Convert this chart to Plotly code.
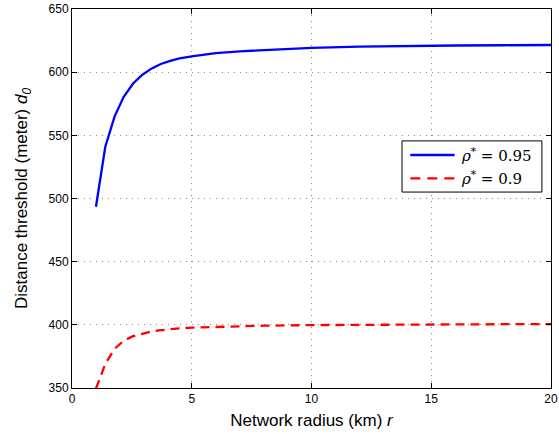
import plotly.graph_objects as go

# Network radius r (km) and distance threshold d0 (m) for each target rho*
r_blue = [1.0, 1.39, 1.78, 2.16, 2.55, 2.94, 3.33, 3.71, 4.1, 4.49, 5, 6, 7, 8, 9, 10, 12, 14, 16, 18, 20]
d0_rho095 = [493.5, 541, 565, 580.5, 591, 598, 603, 606.5, 609, 611, 612.5, 615, 616.5, 617.5, 618.5,
             619.3, 620.2, 620.8, 621.1, 621.3, 621.5]

r_red = [1.0, 1.39, 1.78, 2.16, 2.55, 2.94, 3.33, 3.71, 4.1, 4.49, 5, 6, 7, 8, 10, 12, 14, 16, 18, 20]
d0_rho090 = [349.5, 369, 381, 387.5, 391, 393.2, 394.8, 395.8, 396.6, 397.2, 397.8, 398.5, 399, 399.3,
             399.8, 400.1, 400.3, 400.4, 400.5, 400.6]

x_ticks = [0, 5, 10, 15, 20]
y_ticks = [350, 400, 450, 500, 550, 600, 650]

series_names = ["<i>ρ</i><sup>*</sup> = 0.95", "<i>ρ</i><sup>*</sup> = 0.9"]
series_colors = ["#0000ff", "#ff0000"]
series_dash = ["solid", "10px,7px"]

fig = go.Figure()
fig.add_trace(go.Scatter(
    x=r_blue, y=d0_rho095, mode="lines",
    line=dict(color=series_colors[0], width=2.3, dash=series_dash[0]),
    name=series_names[0], showlegend=False,
))
fig.add_trace(go.Scatter(
    x=r_red, y=d0_rho090, mode="lines",
    line=dict(color=series_colors[1], width=2.3, dash="9px,6px"),
    name=series_names[1], showlegend=False,
))

axis_common = dict(
    showline=True, linecolor="black", linewidth=1, mirror="ticks",
    ticks="inside", ticklen=5, tickcolor="black", tickwidth=1,
    showgrid=True, gridcolor="#8a8a8a", gridwidth=1, griddash="1px,5px",
    zeroline=False, automargin=False,
    tickfont=dict(family="Liberation Sans", size=12, color="black"),
    title_font=dict(family="Liberation Sans", size=17, color="black"),
)

fig.update_xaxes(
    range=[0, 20], tickvals=x_ticks, ticktext=[str(v) for v in x_ticks],
    title_text="Network radius (km) <i>r</i>", title_standoff=8,
    **axis_common,
)
fig.update_yaxes(
    range=[350, 650], tickvals=y_ticks, ticktext=[str(v) for v in y_ticks],
    title_text="Distance threshold (meter) <i>d<sub>0</sub></i>", title_standoff=16,
    **axis_common,
)

# Boxed legend drawn in paper coordinates (MATLAB-style long line samples)
box_x0, box_x1 = 0.689, 0.981
box_y0, box_y1 = 0.517, 0.652
row_y = [0.6148, 0.5533]
sample_x0, sample_x1 = 0.7063, 0.7987
text_x = 0.8071

fig.add_shape(type="rect", xref="paper", yref="paper",
              x0=box_x0, x1=box_x1, y0=box_y0, y1=box_y1,
              line=dict(color="black", width=1), fillcolor="white", layer="above")
for name, color, dash, y in zip(series_names, series_colors, series_dash, row_y):
    fig.add_shape(type="line", xref="paper", yref="paper",
                  x0=sample_x0, x1=sample_x1, y0=y, y1=y,
                  line=dict(color=color, width=2.3, dash=dash), layer="above")
    fig.add_annotation(xref="paper", yref="paper", x=text_x, y=y,
                       xanchor="left", yanchor="middle", showarrow=False,
                       text=name, font=dict(family="DejaVu Serif", size=15, color="black"))

fig.update_layout(
    width=559, height=434,
    margin=dict(l=72, r=7.5, t=9, b=46),
    plot_bgcolor="white", paper_bgcolor="white",
    showlegend=False,
)

fig.write_html("out.html")
